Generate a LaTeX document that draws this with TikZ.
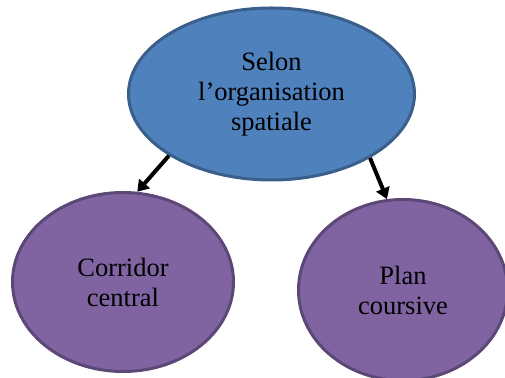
\documentclass[tikz,border=0pt]{standalone}
\usepackage{fontspec}
\setmainfont{Liberation Serif}
\usepackage{tikz}
\usetikzlibrary{shapes.geometric,arrows.meta}
\definecolor{topblue}{HTML}{4F81BD}
\definecolor{topline}{HTML}{3A5F8B}
\definecolor{subpurple}{HTML}{8064A2}
\definecolor{subline}{HTML}{5C4877}

\begin{document}
\begin{tikzpicture}[x=0.5pt,y=-0.5pt,
    bubble/.style={ellipse,line width=1.5pt,align=center,inner sep=0pt,
        font=\fontsize{13.25}{15}\selectfont},
    link/.style={line width=2pt,-{Triangle[length=5.5pt,width=7pt]}}]
        \useasboundingbox (0,0) rectangle (505,378);

        % Top
        \node[bubble,fill=topblue,draw=topline,minimum width=143pt,minimum height=86pt]
            (orga) at (271.5,94) {Selon\\l’organisation\\spatiale};

        % Left
        \node[bubble,fill=subpurple,draw=subline,minimum width=110.5pt,minimum height=89.5pt]
            (corridor) at (123,282) {Corridor\\central};

        % Right
        \node[bubble,fill=subpurple,draw=subline,minimum width=104.5pt,minimum height=90.5pt]
            (coursive) at (403,290) {Plan\\coursive};

        % Arrows
        \draw[link] (orga.211) -- (corridor.81);
        \draw[link] (orga.327) -- (coursive.100);
    \end{tikzpicture}
\end{document}
